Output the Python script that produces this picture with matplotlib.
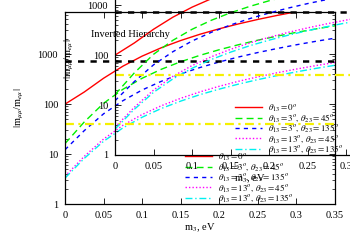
import matplotlib
matplotlib.use("Agg")
import matplotlib.pyplot as plt
import numpy as np

plt.rcParams['font.family'] = ['Liberation Serif', 'DejaVu Serif']
plt.rcParams['mathtext.fontset'] = 'stix'

# lightest mass m3, eV
m3 = [0, 0.025, 0.05, 0.075, 0.1, 0.125, 0.15, 0.175, 0.2, 0.225, 0.25, 0.275, 0.3, 0.325, 0.35]

# |m_mumu / m_emu|
ratio_t0 = [100, 175, 330, 575, 915, 1350, 1880, 2510, 3230, 4050, 4970, 5980, 7090, 8300, 9600]
ratio_t3_45 = [16.2, 44, 104, 198, 330, 500, 707, 950, 1230, 1550, 1910, 2300, 2740, 3200, 3710]
ratio_t3_135 = [12.2, 29.5, 64, 117, 192, 287, 403, 541, 699, 879, 1080, 1300, 1545, 1810, 2095]
ratio_t13_45 = [3.6, 9.0, 20, 37.6, 62, 93, 131, 176, 228, 287, 352, 425, 504, 590, 684]
ratio_t13_135 = [3.3, 8.2, 18, 33.4, 54.7, 82, 115, 155, 200, 252, 310, 373, 443, 519, 600]

# bounds
upper_black = 720
upper_yellow = 40

labels = [r'$\theta_{13} = 0^o$',
          r'$\theta_{13} = 3^o,\, \theta_{23} = 45^o$',
          r'$\theta_{13} = 3^o,\, \theta_{23} = 135^o$',
          r'$\theta_{13} = 13^o,\, \theta_{23} = 45^o$',
          r'$\theta_{13} = 13^o,\, \theta_{23} = 135^o$']
series = [ratio_t0, ratio_t3_45, ratio_t3_135, ratio_t13_45, ratio_t13_135]
colors = ['#ff0000', '#00f000', '#0000ff', '#ff00ff', '#00f0f0']
styles = ['-', (0, (5, 3)), (0, (3, 3)), (0, (1, 1.5)), (0, (5, 2, 1, 2))]


def draw_panel(ax, title=None):
    for y, lab, c, ls in zip(series, labels, colors, styles):
        ax.plot(m3, y, color=c, ls=ls, lw=1.0, label=lab)
    ax.axhline(upper_black, color='black', ls=(0, (2.5, 2.5)), lw=1.8)
    ax.axhline(upper_yellow, color='#f5f000', ls=(0, (4, 2, 1, 2)), lw=1.6)
    ax.set_yscale('log')
    ax.set_xlim(0, 0.35)
    ax.set_ylim(1, 7000)
    ax.set_xticks([0, 0.05, 0.1, 0.15, 0.2, 0.25, 0.3, 0.35])
    ax.set_xticklabels(['0', '0.05', '0.1', '0.15', '0.2', '0.25', '0.3', '0.35'])
    ax.set_yticks([1, 10, 100, 1000])
    ax.set_yticklabels(['1', '10', '100', '1000'])
    ax.tick_params(which='both', direction='in', top=True, right=True, labelsize=7.5, pad=5)
    ax.tick_params(which='major', length=4, width=0.6)
    ax.tick_params(which='minor', length=2, width=0.5)
    ax.set_xlabel(r'm$_3$, eV', fontsize=7.5, labelpad=1)
    ax.set_ylabel(r'$|$m$_{\mu\mu}$/m$_{e\mu}|$', fontsize=7.5, labelpad=8)
    for s in ax.spines.values():
        s.set_linewidth(0.9)
    ax.patch.set_alpha(0)
    ax.legend(loc='upper left', bbox_to_anchor=(0.445, 0.275), frameon=False, fontsize=6.5,
              labelspacing=-0.12, handlelength=3.0, handletextpad=0.6, borderpad=0,
              borderaxespad=0)
    if title:
        ax.text(0.056, 0.625, title, transform=ax.transAxes, ha='center', va='center', fontsize=7.5)


fig = plt.figure(figsize=(3.5, 2.45), dpi=100)
ax_main = fig.add_axes([65 / 350, 41 / 245, 270 / 350, 192 / 245])
draw_panel(ax_main)
ax_in = fig.add_axes([115 / 350, 90 / 245, 270 / 350, 192 / 245])
draw_panel(ax_in, 'Inverted Hierarchy')

fig.savefig('out.png', dpi=100)
